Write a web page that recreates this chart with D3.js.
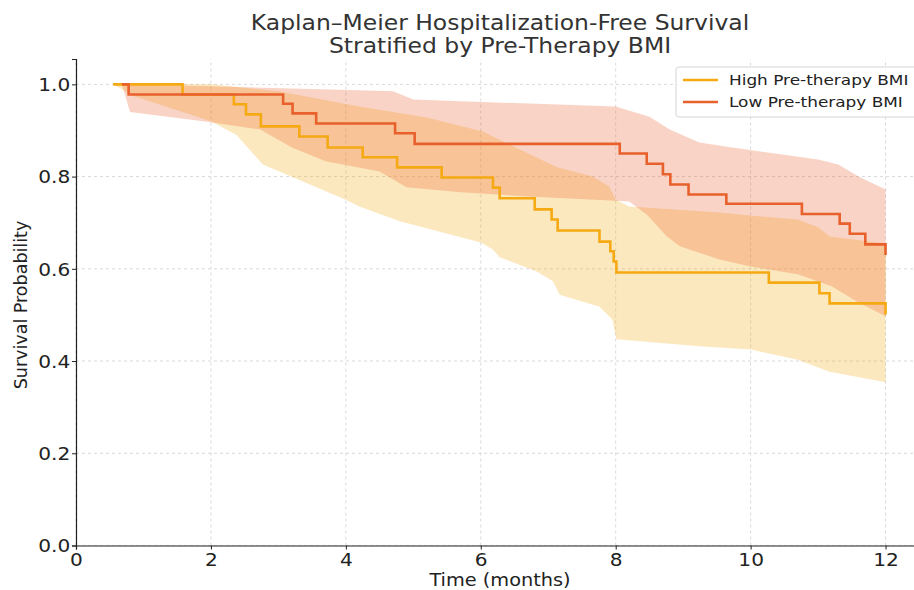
<!DOCTYPE html>
<html>
<head>
<meta charset="utf-8">
<script src="https://cdn.jsdelivr.net/npm/d3@7"></script>
<style>
  body { margin: 0; background: #fff; }
  text { font-family: "DejaVu Sans", sans-serif; }
</style>
</head>
<body>
<svg width="914" height="590"></svg>
<script>
// step curves (time in months, survival)
var highTimes = [0.55, 1.58, 2.34, 2.52, 2.74, 3.31, 3.73, 4.25, 4.76, 5.42, 6.18, 6.28, 6.80, 7.05, 7.14, 7.76, 7.92, 7.97, 8.01, 10.27, 11.02, 11.17, 12.0]
var highSurv  = [1.0, 0.978, 0.957, 0.935, 0.909, 0.887, 0.863, 0.842, 0.820, 0.798, 0.776, 0.753, 0.729, 0.707, 0.683, 0.659, 0.638, 0.616, 0.592, 0.570, 0.547, 0.525, 0.501]

var lowTimes = [0.68, 0.78, 3.07, 3.21, 3.56, 4.73, 5.02, 8.06, 8.46, 8.70, 8.81, 9.08, 9.64, 10.76, 11.32, 11.47, 11.70, 12.0]
var lowSurv  = [1.0, 0.978, 0.958, 0.937, 0.915, 0.894, 0.871, 0.850, 0.828, 0.805, 0.783, 0.761, 0.741, 0.719, 0.698, 0.676, 0.653, 0.630]

// confidence bands
var highUpperT = [0.55, 2.0, 3.0, 4.2, 5.2, 6.03, 6.28, 6.58, 7.13, 7.66, 7.9, 8.0, 8.2, 9.54, 10.1, 10.7, 11.0, 11.17, 12.0]
var highUpperV = [1.0, 1.0, 0.985, 0.952, 0.928, 0.898, 0.88, 0.859, 0.82, 0.80, 0.779, 0.75, 0.735, 0.722, 0.714, 0.707, 0.69, 0.67, 0.655]
var highLowerT = [0.55, 0.85, 2.0, 2.38, 2.77, 4.0, 4.2, 4.8, 6.0, 6.18, 6.28, 6.83, 7.07, 7.17, 7.76, 7.95, 8.01, 9.24, 10.0, 10.7, 11.17, 12.0]
var highLowerV = [1.0, 0.975, 0.92, 0.89, 0.826, 0.75, 0.735, 0.703, 0.657, 0.642, 0.625, 0.594, 0.573, 0.544, 0.518, 0.49, 0.447, 0.432, 0.425, 0.403, 0.377, 0.354]

var lowUpperT = [0.68, 2.0, 4.2, 4.7, 5.0, 8.0, 8.5, 8.8, 9.24, 9.73, 10.47, 11.0, 11.3, 11.6, 12.0]
var lowUpperV = [1.0, 0.996, 0.987, 0.985, 0.967, 0.952, 0.93, 0.902, 0.874, 0.863, 0.848, 0.837, 0.826, 0.80, 0.772]
var lowLowerT = [0.68, 0.8, 2.0, 2.73, 3.2, 3.7, 4.5, 4.9, 5.7, 6.7, 7.7, 8.2, 8.46, 8.76, 8.95, 9.54, 10.0, 10.7, 11.2, 11.6, 12.0]
var lowLowerV = [1.0, 0.94, 0.918, 0.902, 0.863, 0.833, 0.811, 0.777, 0.766, 0.757, 0.75, 0.746, 0.718, 0.67, 0.649, 0.62, 0.605, 0.588, 0.562, 0.527, 0.497]

var xTicks = [0, 2, 4, 6, 8, 10, 12]
var yTicks = [0.0, 0.2, 0.4, 0.6, 0.8, 1.0]
var seriesNames = ["High Pre-therapy BMI", "Low Pre-therapy BMI"]
var colors = ["#F5A912", "#E8602B"]

var svg = d3.select("svg")
// the picture is a little wider than tall, so horizontal text gets stretched
var stretch = "scale(1.15,1)"

var x = d3.scaleLinear().domain([0, 12.57]).range([76, 924])
var y = d3.scaleLinear().domain([0, 1.055]).range([545.5, 59])

// grid
var grid = svg.append("g")
grid.selectAll(".gx").data(xTicks).enter().append("line")
    .attr("x1", d => x(d)).attr("x2", d => x(d))
    .attr("y1", y(0)).attr("y2", y(1.055))
    .attr("stroke", "#cfcfcf").attr("stroke-width", 0.8).attr("stroke-dasharray", "3,3")
grid.selectAll(".gy").data(yTicks).enter().append("line")
    .attr("x1", x(0)).attr("x2", 914)
    .attr("y1", d => y(d)).attr("y2", d => y(d))
    .attr("stroke", "#cfcfcf").attr("stroke-width", 0.8).attr("stroke-dasharray", "3,3")

// bands: upper edge forward, lower edge back
function band(ut, uv, lt, lv) {
    var pts = ut.map((t, i) => [t, uv[i]])
    for (var i = lt.length - 1; i >= 0; i--) pts.push([lt[i], lv[i]])
    return pts
}
var bandLine = d3.line().x(d => x(d[0])).y(d => y(d[1])).curve(d3.curveLinearClosed)

svg.append("path").attr("d", bandLine(band(highUpperT, highUpperV, highLowerT, highLowerV)))
    .attr("fill", colors[0]).attr("fill-opacity", 0.27)
svg.append("path").attr("d", bandLine(band(lowUpperT, lowUpperV, lowLowerT, lowLowerV)))
    .attr("fill", colors[1]).attr("fill-opacity", 0.27)

// step lines
var stepLine = d3.line().x(d => x(d[0])).y(d => y(d[1])).curve(d3.curveStepAfter)
svg.append("path").attr("d", stepLine(highTimes.map((t, i) => [t, highSurv[i]])))
    .attr("fill", "none").attr("stroke", colors[0]).attr("stroke-width", 2.6)
svg.append("path").attr("d", stepLine(lowTimes.map((t, i) => [t, lowSurv[i]])))
    .attr("fill", "none").attr("stroke", colors[1]).attr("stroke-width", 2.6)

// axes
var xAxis = svg.append("g").attr("transform", "translate(0," + y(0) + ")")
    .call(d3.axisBottom(x).tickValues(xTicks).tickFormat(d3.format("d")).tickSizeOuter(0).tickSize(4))
var yAxis = svg.append("g").attr("transform", "translate(" + x(0) + ",0)")
    .call(d3.axisLeft(y).tickValues(yTicks).tickFormat(d3.format(".1f")).tickSizeOuter(0).tickSize(4))
xAxis.select(".domain").attr("stroke", "#222").attr("stroke-width", 1.2)
yAxis.select(".domain").attr("stroke", "#222").attr("stroke-width", 1.2)
svg.selectAll(".tick text").attr("font-size", 17.5).attr("fill", "#222")
    .attr("transform", stretch)
    .style("font-family", "'DejaVu Sans', sans-serif")
xAxis.selectAll(".tick text").attr("dy", "0.8em")
yAxis.selectAll(".tick text").attr("x", -5).attr("dy", "0.36em")
svg.selectAll(".tick line").attr("stroke", "#222")

// labels
svg.append("text").attr("transform", "translate(500,586) " + stretch).attr("text-anchor", "middle")
    .attr("font-size", 16.8).attr("fill", "#222").text("Time (months)")
svg.append("text").attr("transform", "translate(27,305) rotate(-90)").attr("text-anchor", "middle")
    .attr("font-size", 17.5).attr("fill", "#222").text("Survival Probability")
svg.append("text").attr("transform", "translate(500,30) " + stretch).attr("text-anchor", "middle")
    .attr("font-size", 20.4).attr("fill", "#333").text("Kaplan–Meier Hospitalization-Free Survival")
svg.append("text").attr("transform", "translate(500,53) " + stretch).attr("text-anchor", "middle")
    .attr("font-size", 20.4).attr("fill", "#333").text("Stratified by Pre-Therapy BMI")

// legend
var lg = svg.append("g").attr("transform", "translate(676,67)")
lg.append("rect").attr("width", 250).attr("height", 50).attr("rx", 3)
    .attr("fill", "#fff").attr("fill-opacity", 0.85).attr("stroke", "#d5d5d5")
seriesNames.forEach((name, i) => {
    var row = lg.append("g").attr("transform", "translate(0," + (13 + i * 22) + ")")
    row.append("line").attr("x1", 7).attr("x2", 42).attr("y1", 0).attr("y2", 0)
        .attr("stroke", colors[i]).attr("stroke-width", 2.6)
    row.append("text").attr("transform", "translate(53,5) " + stretch)
        .attr("font-size", 14.7).attr("fill", "#222").text(name)
})
</script>
</body>
</html>
